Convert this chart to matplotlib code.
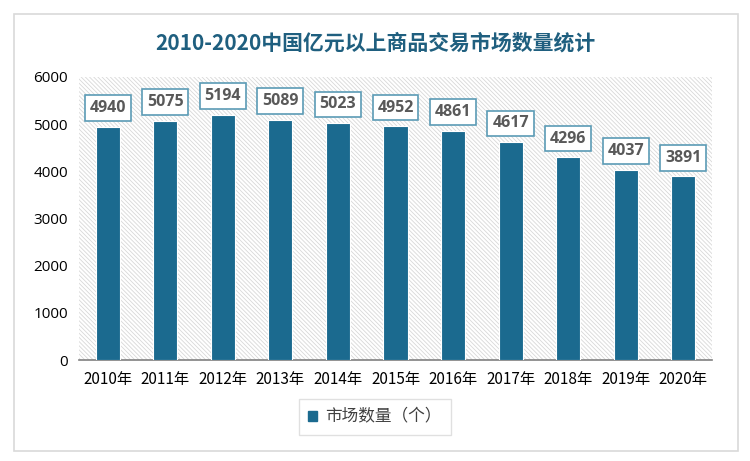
import matplotlib
matplotlib.use("Agg")
import matplotlib.pyplot as plt
from matplotlib.patches import Rectangle

plt.rcParams['font.family'] = ['Noto Sans CJK SC', 'DejaVu Sans']
plt.rcParams['hatch.color'] = '#d8d8d8'
plt.rcParams['hatch.linewidth'] = 0.6

years = ['2010年', '2011年', '2012年', '2013年', '2014年', '2015年', '2016年',
         '2017年', '2018年', '2019年', '2020年']
counts = [4940, 5075, 5194, 5089, 5023, 4952, 4861, 4617, 4296, 4037, 3891]
yticks = [0, 1000, 2000, 3000, 4000, 5000, 6000]
title = '2010-2020中国亿元以上商品交易市场数量统计'
legend_label = '市场数量（个）'

W, H = 750, 461
fig = plt.figure(figsize=(W/100, H/100), dpi=100)
fig.patch.set_facecolor('white')

# outer frame
frame = Rectangle((14/W, 1-451/H), 724/W, 437/H, transform=fig.transFigure,
                  facecolor='none', edgecolor='#d9d9d9', linewidth=1.2, zorder=-1)
fig.patches.append(frame)

ax = fig.add_axes([79/W, 1-360/H, 633/W, 283/H])
ax.set_facecolor('white')
ax.patch.set_hatch('\\' * 8)
ax.patch.set_edgecolor('#d8d8d8')
ax.patch.set_linewidth(0)

x = list(range(len(years)))
ax.bar(x, counts, width=0.42, color='#1b6a8f', edgecolor='white', linewidth=0.8, zorder=3)
for xi, v in zip(x, counts):
    ax.annotate(str(v), (xi, v), xytext=(0, 13.5), textcoords='offset points',
                ha='center', va='center', fontsize=11.5, fontweight='bold', color='#595959',
                family=['Open Sans', 'DejaVu Sans'],
                bbox=dict(boxstyle='square,pad=0.3', facecolor='white', edgecolor='#5b9bb5', linewidth=1.2),
                zorder=5)

ax.set_xlim(-0.5, len(years)-0.5)
ax.set_ylim(0, 6000)
ax.set_yticks(yticks)
ax.set_yticklabels([str(t) for t in yticks], fontsize=11, color='#000000',
                   family=['Open Sans', 'DejaVu Sans'])
ax.set_xticks(x)
ax.set_xticklabels(years, fontsize=11, color='#000000')
ax.tick_params(axis='both', length=0, pad=8)
for s in ['top', 'right', 'left']:
    ax.spines[s].set_visible(False)
ax.spines['bottom'].set_color('#808080')
ax.spines['bottom'].set_linewidth(1.2)

fig.text(375/W, 1-43/H, title, ha='center', va='center', fontsize=15, fontweight='bold',
         color='#1f5f7f')

leg = ax.legend([Rectangle((0, 0), 1, 1, color='#1b6a8f')], [legend_label],
                loc='center', bbox_to_anchor=(375/W, 1-417/H), bbox_transform=fig.transFigure,
                fontsize=12, frameon=True, fancybox=False, edgecolor='#d9d9d9',
                handlelength=0.55, handleheight=0.55, borderpad=0.55, handletextpad=0.5,
                borderaxespad=0)
leg.get_frame().set_linewidth(1.0)
for t in leg.get_texts():
    t.set_color('#404040')

fig.savefig('out.png', dpi=100)
